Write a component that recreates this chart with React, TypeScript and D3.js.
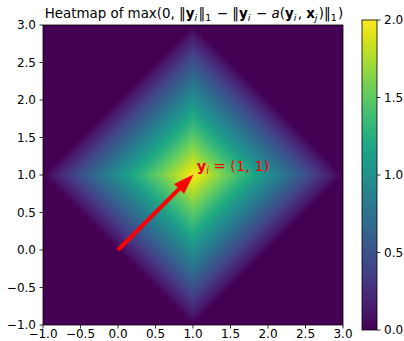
import React from "react";
import * as d3 from "d3";

// point y_i and the plotted domain
const Y_I = [1, 1];
const X_DOMAIN = [-1, 3];
const Y_DOMAIN = [-1, 3];
const X_TICKS = [-1, -0.5, 0, 0.5, 1, 1.5, 2, 2.5, 3];
const Y_TICKS = [-1, -0.5, 0, 0.5, 1, 1.5, 2, 2.5, 3];
const CBAR_DOMAIN = [0, 2];
const CBAR_TICKS = [0, 0.5, 1, 1.5, 2];
const ARROW_FROM = [0, 0];
const ARROW_TO = [1, 1];
const LABEL_AT = [1.05, 1.05];
const GRID_N = 150;

const FONT = "DejaVu Sans, sans-serif";

// value of the title's formula at grid point x_j (a(y_i, x_j) = x_j)
function heat(x1: number, x2: number) {
  const n1 = Math.abs(Y_I[0]) + Math.abs(Y_I[1]);
  const d = Math.abs(Y_I[0] - x1) + Math.abs(Y_I[1] - x2);
  return Math.max(0, n1 - d);
}

const App = () => {
  const width = 404;
  const height = 341;
  const plot = { left: 43, top: 25, size: 300 };

  const x = d3.scaleLinear().domain(X_DOMAIN).range([plot.left, plot.left + plot.size]);
  const y = d3.scaleLinear().domain(Y_DOMAIN).range([plot.top + plot.size, plot.top]);
  const color = d3.scaleSequential(d3.interpolateViridis).domain(CBAR_DOMAIN);

  const cb = { left: 362, width: 15, top: 20, bottom: 330 };
  const cy = d3.scaleLinear().domain(CBAR_DOMAIN).range([cb.bottom, cb.top]);

  // heatmap cells
  const step = (X_DOMAIN[1] - X_DOMAIN[0]) / GRID_N;
  const stepY = (Y_DOMAIN[1] - Y_DOMAIN[0]) / GRID_N;
  const cells: { x0: number; y0: number; v: number }[] = [];
  for (let i = 0; i < GRID_N; i++) {
    for (let j = 0; j < GRID_N; j++) {
      const x0 = X_DOMAIN[0] + i * step;
      const y0 = Y_DOMAIN[0] + j * stepY;
      cells.push({ x0, y0, v: heat(x0 + step / 2, y0 + stepY / 2) });
    }
  }
  const cw = x(X_DOMAIN[0] + step) - x(X_DOMAIN[0]);
  const ch = y(Y_DOMAIN[0]) - y(Y_DOMAIN[0] + stepY);

  // arrow polygon in data space
  const dx = ARROW_TO[0] - ARROW_FROM[0];
  const dy = ARROW_TO[1] - ARROW_FROM[1];
  const len = Math.hypot(dx, dy);
  const ux = dx / len, uy = dy / len;
  const nx = -uy, ny = ux;
  const shaftW = 0.05, headW = 0.18, headL = 0.26;
  const bx = ARROW_TO[0] - ux * headL, by = ARROW_TO[1] - uy * headL;
  const arrowPts = [
    [ARROW_FROM[0] + nx * shaftW / 2, ARROW_FROM[1] + ny * shaftW / 2],
    [bx + nx * shaftW / 2, by + ny * shaftW / 2],
    [bx + nx * headW / 2, by + ny * headW / 2],
    [ARROW_TO[0], ARROW_TO[1]],
    [bx - nx * headW / 2, by - ny * headW / 2],
    [bx - nx * shaftW / 2, by - ny * shaftW / 2],
    [ARROW_FROM[0] - nx * shaftW / 2, ARROW_FROM[1] - ny * shaftW / 2],
  ];
  const arrowPath = d3.line()(arrowPts.map(([a, b]) => [x(a), y(b)] as [number, number]));

  const stops = d3.range(0, 1.0001, 0.05);
  const fmt = (v: number) => (v < 0 ? "\u2212" : "") + Math.abs(v).toFixed(1);

  const sub = (t: string, italic = false) => (
    <>
      <tspan dy={3} fontSize={9.5} fontStyle={italic ? "italic" : "normal"}>{t}</tspan>
      <tspan dy={-3}>{"\u200a"}</tspan>
    </>
  );

  return (
    <svg width={width} height={height} style={{ position: "absolute", left: 0, top: 0, background: "#fff" }} fontFamily={FONT}>
      <defs>
        <linearGradient id="cbar" x1="0" y1="1" x2="0" y2="0">
          {stops.map((s) => (
            <stop key={s} offset={s} stopColor={d3.interpolateViridis(s)} />
          ))}
        </linearGradient>
      </defs>

      {/* title */}
      <text x={(plot.left * 2 + plot.size) / 2 + 1} y={18} textAnchor="middle" fontSize={13.4} fill="#000">
        <tspan>Heatmap of max(0, ‖</tspan>
        <tspan fontWeight="bold">y</tspan>
        {sub("i", true)}
        <tspan>‖</tspan>
        {sub("1")}
        <tspan> − ‖</tspan>
        <tspan fontWeight="bold">y</tspan>
        {sub("i", true)}
        <tspan> − </tspan>
        <tspan fontStyle="italic">a</tspan>
        <tspan>(</tspan>
        <tspan fontWeight="bold">y</tspan>
        {sub("i", true)}
        <tspan>, </tspan>
        <tspan fontWeight="bold">x</tspan>
        {sub("j", true)}
        <tspan>)‖</tspan>
        {sub("1")}
        <tspan>)</tspan>
      </text>

      {/* heatmap */}
      <g shapeRendering="crispEdges">
        {cells.map((c, k) => (
          <rect key={k} x={x(c.x0)} y={y(c.y0 + stepY)} width={cw} height={ch} fill={color(c.v)} />
        ))}
      </g>

      {/* arrow */}
      <path d={arrowPath || ""} fill="#ff0000" stroke="#ff0000" strokeWidth={0.5} strokeLinejoin="miter" />

      {/* annotation */}
      <text x={x(LABEL_AT[0])} y={y(LABEL_AT[1])} fontSize={14.5} fill="#ff0000">
        <tspan fontWeight="bold">y</tspan>
        <tspan dy={3} fontSize={10} fontStyle="italic">i</tspan>
        <tspan dy={-3}> = (1, 1)</tspan>
      </text>

      {/* axes frame */}
      <rect x={plot.left} y={plot.top} width={plot.size} height={plot.size} fill="none" stroke="#000" strokeWidth={0.8} />

      {/* axes ticks */}
      <g fontSize={12} fill="#000">
        {X_TICKS.map((t) => (
          <g key={"x" + t}>
            <line x1={x(t)} x2={x(t)} y1={plot.top + plot.size} y2={plot.top + plot.size + 3.5} stroke="#000" strokeWidth={0.8} />
            <text x={x(t)} y={plot.top + plot.size + 12.5} textAnchor="middle">{fmt(t)}</text>
          </g>
        ))}
        {Y_TICKS.map((t) => (
          <g key={"y" + t}>
            <line x1={plot.left - 3.5} x2={plot.left} y1={y(t)} y2={y(t)} stroke="#000" strokeWidth={0.8} />
            <text x={plot.left - 7} y={y(t)} dy="0.36em" textAnchor="end">{fmt(t)}</text>
          </g>
        ))}
      </g>

      {/* colorbar */}
      <rect x={cb.left} y={cb.top} width={cb.width} height={cb.bottom - cb.top} fill="url(#cbar)" stroke="#000" strokeWidth={0.8} />
      <g fontSize={12} fill="#000">
        {CBAR_TICKS.map((t) => (
          <g key={"c" + t}>
            <line x1={cb.left + cb.width} x2={cb.left + cb.width + 3.5} y1={cy(t)} y2={cy(t)} stroke="#000" strokeWidth={0.8} />
            <text x={cb.left + cb.width + 7} y={cy(t)} dy="0.36em">{fmt(t)}</text>
          </g>
        ))}
      </g>
    </svg>
  );
};

export default App;
